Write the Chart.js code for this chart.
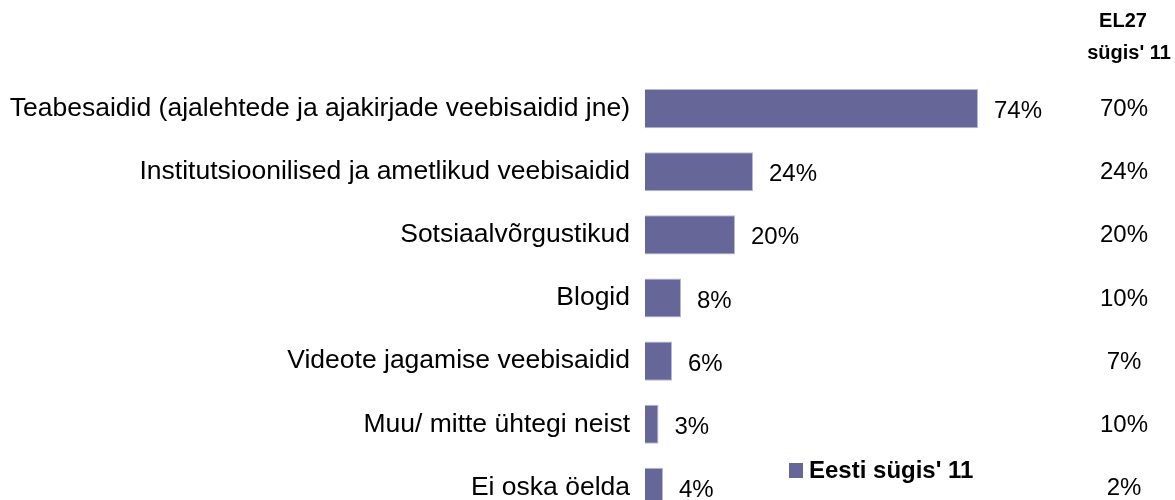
<!DOCTYPE html>
<html>
<head>
<meta charset="utf-8">
<script src="https://cdn.jsdelivr.net/npm/chart.js@4.4.1/dist/chart.umd.min.js"></script>
<style>
  html, body { margin: 0; padding: 0; background: #fff; overflow: hidden; }
  canvas { display: block; }
</style>
</head>
<body>
<canvas id="chart" width="1175" height="525"></canvas>
<script>
/* ===============================
   DATA
================================= */

const categories = [
  "Teabesaidid (ajalehtede ja ajakirjade veebisaidid jne)",
  "Institutsioonilised ja ametlikud veebisaidid",
  "Sotsiaalvõrgustikud",
  "Blogid",
  "Videote jagamise veebisaidid",
  "Muu/ mitte ühtegi neist",
  "Ei oska öelda"
];
const eestiValues = [74, 24, 20, 8, 6, 3, 4];
const el27Values = [70, 24, 20, 10, 7, 10, 2];
const seriesLabel = "Eesti sügis' 11";
const el27Header = ["EL27", "sügis' 11"];

const barColor = "#666699";
const fontFamily = "'Liberation Sans', Arial, sans-serif";

/* ===============================
   LABELS PLUGIN
================================= */

const extraLabels = {
  id: "extraLabels",
  afterDatasetsDraw(chart) {
    const { ctx, scales } = chart;
    const x = scales.x;
    const y = scales.y;
    ctx.save();
    ctx.fillStyle = "#000";
    ctx.textBaseline = "middle";

    // value labels next to bars
    ctx.font = "24px " + fontFamily;
    ctx.textAlign = "left";
    eestiValues.forEach((v, i) => {
      ctx.fillText(v + "%", x.getPixelForValue(v) + 16, y.getPixelForValue(i) + 3);
    });

    // EL27 column
    ctx.textAlign = "center";
    el27Values.forEach((v, i) => {
      ctx.fillText(v + "%", 1124, y.getPixelForValue(i) + 1);
    });

    // EL27 header
    ctx.font = "bold 20px " + fontFamily;
    ctx.fillText(el27Header[0], 1123, 21);
    ctx.fillText(el27Header[1], 1129, 53);

    // legend
    ctx.fillStyle = barColor;
    ctx.fillRect(789, 463, 14, 15);
    ctx.fillStyle = "#000";
    ctx.font = "bold 24px " + fontFamily;
    ctx.textAlign = "left";
    ctx.fillText(seriesLabel, 809, 471);

    ctx.restore();
  }
};

/* ===============================
   CHART
================================= */

new Chart(document.getElementById("chart"), {
  type: "bar",
  data: {
    labels: categories,
    datasets: [{
      label: seriesLabel,
      data: eestiValues,
      backgroundColor: barColor,
      borderColor: "#b8b8d6",
      borderWidth: 1,
      categoryPercentage: 1,
      barPercentage: 0.62
    }]
  },
  options: {
    indexAxis: "y",
    responsive: false,
    animation: false,
    layout: { padding: { top: 77, bottom: 6, right: 80, left: 0 } },
    plugins: {
      legend: { display: false },
      tooltip: { enabled: false }
    },
    scales: {
      x: {
        display: false,
        min: 0,
        max: 100
      },
      y: {
        afterFit(scale) {
          scale.width = 645;
          scale.paddingTop = 0;
          scale.paddingBottom = 0;
        },
        grid: { display: false, drawTicks: false },
        border: { display: false },
        ticks: {
          color: "#000",
          padding: 15,
          font: { family: fontFamily, size: 26.5 }
        }
      }
    }
  },
  plugins: [extraLabels]
});
</script>
</body>
</html>
